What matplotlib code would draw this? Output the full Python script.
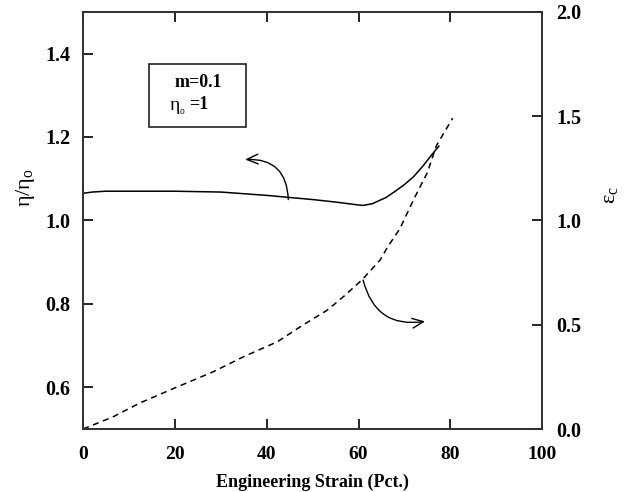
import matplotlib.pyplot as plt

# eta/eta_o vs engineering strain (left axis)
strain_eta = [0, 2, 5, 10, 20, 30, 40, 45, 50, 55, 60, 61, 63, 66, 68, 70, 72, 74, 76, 77.5]
eta_ratio = [1.065, 1.068, 1.07, 1.07, 1.07, 1.068, 1.06, 1.055, 1.05, 1.044, 1.037, 1.036,
             1.04, 1.055, 1.07, 1.086, 1.105, 1.13, 1.158, 1.178]

# eps_c vs engineering strain (right axis)
strain_eps = [0, 6.5, 12.4, 20, 28.3, 34.9, 42.3, 48, 53.2, 57, 60.8, 64.7, 66.4, 69, 72, 75, 77, 80.5]
eps_c = [0, 0.058, 0.125, 0.197, 0.274, 0.346, 0.418, 0.5, 0.57, 0.64, 0.716, 0.81, 0.875,
         0.96, 1.10, 1.23, 1.36, 1.49]

x_ticks = [0, 20, 40, 60, 80, 100]
left_ticks = [0.6, 0.8, 1.0, 1.2, 1.4]
right_ticks = [0.0, 0.5, 1.0, 1.5, 2.0]

plt.rcParams['font.family'] = ['Liberation Serif', 'DejaVu Serif']
plt.rcParams['mathtext.fontset'] = 'custom'
plt.rcParams['mathtext.rm'] = 'Liberation Serif'
plt.rcParams['mathtext.it'] = 'Liberation Serif:italic'
plt.rcParams['mathtext.bf'] = 'Liberation Serif:bold'

fig = plt.figure(figsize=(6.29, 4.92), dpi=100)
ax = fig.add_axes([0.132, 0.128, 0.73, 0.848])
ax2 = ax.twinx()

ax.plot(strain_eta, eta_ratio, color='black', lw=1.1)
ax2.plot(strain_eps, eps_c, color='black', lw=1.1, ls=(0, (4, 3)))

ax.set_xlim(0, 100)
ax.set_ylim(0.5, 1.5)
ax2.set_ylim(0, 2.0)

ax.set_xticks(x_ticks)
ax.set_xticklabels([str(t) for t in x_ticks], fontweight='bold', fontsize=14)
ax.set_yticks(left_ticks)
ax.set_yticklabels(['%.1f' % t for t in left_ticks], fontweight='bold', fontsize=14.5)
ax2.set_yticks(right_ticks)
ax2.set_yticklabels(['%.1f' % t for t in right_ticks], fontweight='bold', fontsize=14.5)

ax.tick_params(axis='both', direction='in', length=7, width=1.2, pad=12, top=True)
ax.tick_params(axis='y', pad=9)
ax2.tick_params(axis='y', direction='in', length=7, width=1.2, pad=10)
for a in (ax, ax2):
    for s in a.spines.values():
        s.set_linewidth(1.3)
        s.set_color('#333333')

ax.set_xlabel('Engineering Strain (Pct.)', fontweight='bold', fontsize=13)
ax.xaxis.set_label_coords(0.5, -0.108)
ax.set_ylabel(r'η/η$_\mathrm{o}$', fontsize=16)
ax.yaxis.set_label_coords(-0.1, 0.578)
ax2.set_ylabel(r'ε$_\mathrm{c}$', fontsize=16)
ax2.yaxis.set_label_coords(1.127, 0.561)

# parameter box
ax.text(0.2, 0.82, 'm=0.1', transform=ax.transAxes, fontweight='bold', fontsize=13)
ax.text(0.187, 0.764, r'η$_{_\mathrm{o}}$', transform=ax.transAxes, fontsize=14)
ax.text(0.232, 0.766, '=1', transform=ax.transAxes, fontweight='bold', fontsize=13)
box = plt.Rectangle((0.144, 0.725), 0.211, 0.15, transform=ax.transAxes, fill=False,
                    lw=1.2, edgecolor='#222222')
ax.add_patch(box)

# arrows pointing to the relevant axis
ax.annotate('', xy=(35.3, 1.146), xytext=(44.7, 1.05),
            arrowprops=dict(arrowstyle='->,head_length=0.8,head_width=0.35', color='black', lw=1.0,
                            connectionstyle='arc3,rad=0.5', shrinkA=0, shrinkB=0))
ax.annotate('', xy=(74.5, 0.758), xytext=(61.0, 0.857),
            arrowprops=dict(arrowstyle='->,head_length=0.8,head_width=0.35', color='black', lw=1.0,
                            connectionstyle='arc3,rad=0.45', shrinkA=0, shrinkB=0))

fig.savefig('out.png', dpi=100)
